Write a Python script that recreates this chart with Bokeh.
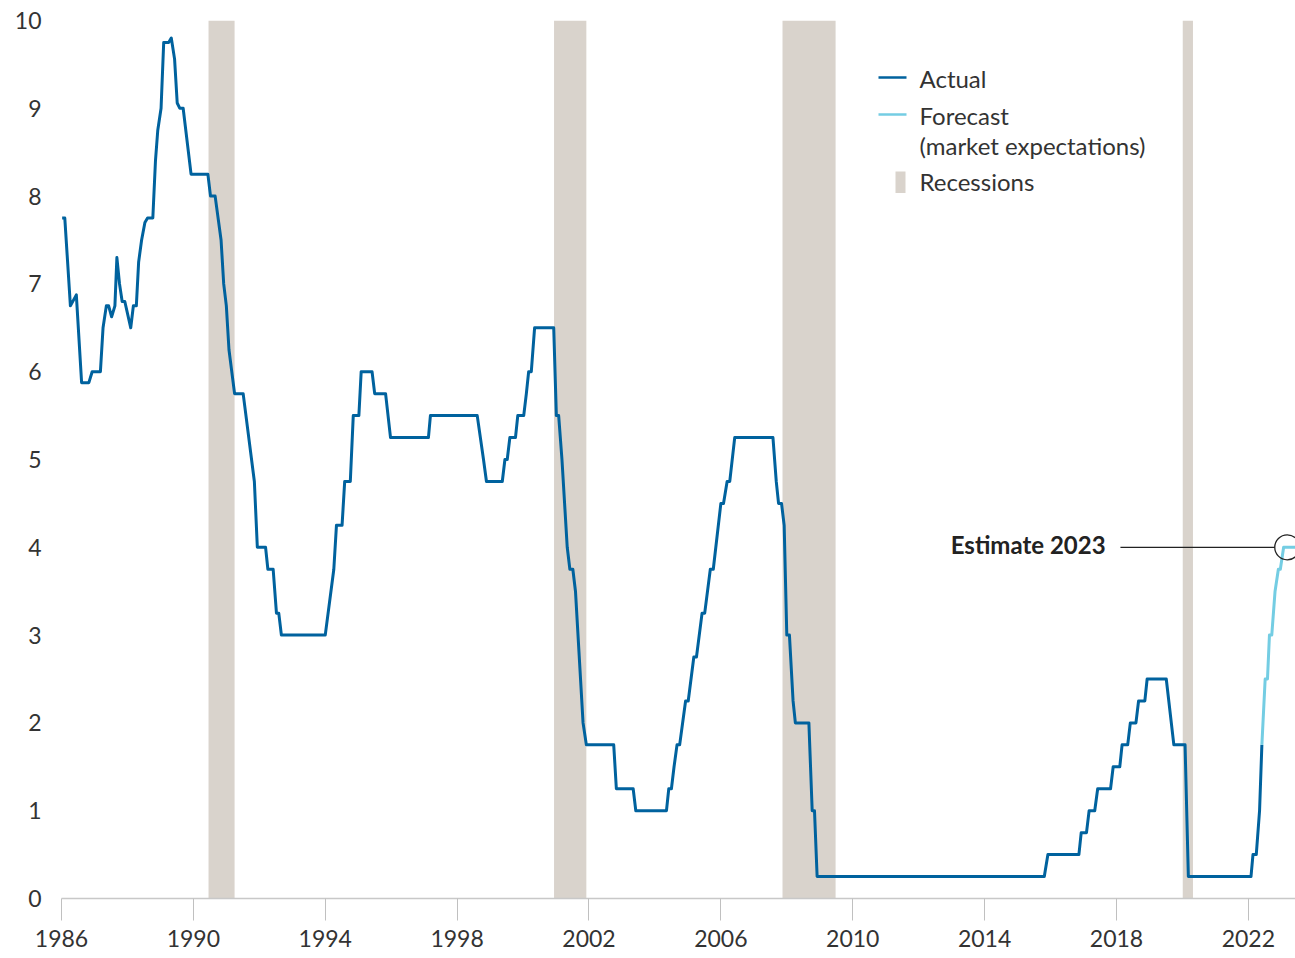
from bokeh.plotting import figure
from bokeh.models import Range1d, FixedTicker
from bokeh.core.properties import value
from bokeh.embed import file_html
from bokeh.resources import INLINE

# ---------------- data ----------------
actual_years = [
    1986.02, 1986.10, 1986.27, 1986.45, 1986.61, 1986.83, 1986.93, 1987.18, 1987.26, 1987.36,
    1987.43, 1987.52, 1987.62, 1987.68, 1987.76, 1987.84, 1987.92, 1988.10, 1988.18, 1988.27,
    1988.34, 1988.43, 1988.53, 1988.61, 1988.77, 1988.85, 1988.92, 1989.02, 1989.10, 1989.25,
    1989.33, 1989.43, 1989.51, 1989.59, 1989.69, 1989.93, 1990.44, 1990.52, 1990.66, 1990.84,
    1990.92, 1991.00, 1991.08, 1991.25, 1991.51, 1991.85, 1991.94, 1992.19, 1992.26, 1992.42,
    1992.52, 1992.59, 1992.67, 1994.00, 1994.26, 1994.34, 1994.51, 1994.59, 1994.76, 1994.85,
    1995.02, 1995.09, 1995.42, 1995.50, 1995.83, 1995.98, 1997.13, 1997.19, 1998.61, 1998.80,
    1998.89, 1999.37, 1999.45, 1999.52, 1999.60, 1999.77, 1999.84, 2000.02, 2000.10, 2000.17,
    2000.25, 2000.35, 2000.93, 2001.01, 2001.08, 2001.18, 2001.34, 2001.42, 2001.51, 2001.59,
    2001.82, 2001.92, 2002.75, 2002.83, 2003.34, 2003.42, 2004.35, 2004.42, 2004.50, 2004.58,
    2004.67, 2004.75, 2004.93, 2005.01, 2005.18, 2005.26, 2005.43, 2005.51, 2005.68, 2005.77,
    2006.00, 2006.08, 2006.19, 2006.27, 2006.42, 2007.58, 2007.68, 2007.75, 2007.84, 2007.92,
    2008.00, 2008.08, 2008.19, 2008.26, 2008.67, 2008.77, 2008.84, 2008.92, 2015.81, 2015.92,
    2016.86, 2016.93, 2017.09, 2017.17, 2017.34, 2017.43, 2017.82, 2017.90, 2018.10, 2018.17,
    2018.34, 2018.42, 2018.59, 2018.67, 2018.86, 2018.93, 2019.51, 2019.74, 2020.08, 2020.18,
    2022.08, 2022.14, 2022.24, 2022.34, 2022.41,
]
actual_rates = [
    7.75, 7.75, 6.75, 6.875, 5.875, 5.875, 6.0, 6.0, 6.5, 6.75,
    6.75, 6.625, 6.75, 7.3, 7.0, 6.8, 6.8, 6.5, 6.75, 6.75,
    7.25, 7.5, 7.7, 7.75, 7.75, 8.4, 8.75, 9.0, 9.75, 9.75,
    9.8, 9.56, 9.06, 9.0, 9.0, 8.25, 8.25, 8.0, 8.0, 7.5,
    7.0, 6.75, 6.25, 5.75, 5.75, 4.75, 4.0, 4.0, 3.75, 3.75,
    3.25, 3.25, 3.0, 3.0, 3.75, 4.25, 4.25, 4.75, 4.75, 5.5,
    5.5, 6.0, 6.0, 5.75, 5.75, 5.25, 5.25, 5.5, 5.5, 5.0,
    4.75, 4.75, 5.0, 5.0, 5.25, 5.25, 5.5, 5.5, 5.75, 6.0,
    6.0, 6.5, 6.5, 5.5, 5.5, 5.0, 4.0, 3.75, 3.75, 3.5,
    2.0, 1.75, 1.75, 1.25, 1.25, 1.0, 1.0, 1.25, 1.25, 1.5,
    1.75, 1.75, 2.25, 2.25, 2.75, 2.75, 3.25, 3.25, 3.75, 3.75,
    4.5, 4.5, 4.75, 4.75, 5.25, 5.25, 4.75, 4.5, 4.5, 4.25,
    3.0, 3.0, 2.25, 2.0, 2.0, 1.0, 1.0, 0.25, 0.25, 0.5,
    0.5, 0.75, 0.75, 1.0, 1.0, 1.25, 1.25, 1.5, 1.5, 1.75,
    1.75, 2.0, 2.0, 2.25, 2.25, 2.5, 2.5, 1.75, 1.75, 0.25,
    0.25, 0.5, 0.5, 1.0, 1.75,
]
forecast_years = [2022.41, 2022.51, 2022.58, 2022.64, 2022.71, 2022.81, 2022.91, 2022.97, 2023.07, 2023.43]
forecast_rates = [1.75, 2.5, 2.5, 3.0, 3.0, 3.5, 3.75, 3.75, 4.0, 4.0]

recession_start = [1990.46, 2000.94, 2007.87, 2020.01]
recession_end = [1991.25, 2001.92, 2009.48, 2020.32]

xtick_values = [1986, 1990, 1994, 1998, 2002, 2006, 2010, 2014, 2018, 2022]
xtick_labels = ["1986", "1990", "1994", "1998", "2002", "2006", "2010", "2014", "2018", "2022"]
ytick_values = [0, 1, 2, 3, 4, 5, 6, 7, 8, 9, 10]
ytick_labels = ["0", "1", "2", "3", "4", "5", "6", "7", "8", "9", "10"]

estimate_label = "Estimate 2023"
estimate_year = 2023.18
estimate_rate = forecast_rates[-1]
estimate_label_year = 2017.67   # right edge of the label
estimate_leader_year = 2018.12  # start of the leader line

legend_labels = ["Actual", "Forecast", "(market expectations)", "Recessions"]

# ---------------- styling ----------------
ACTUAL = "#00629e"
FORECAST = "#74cde3"
RECESS = "#d9d3cc"
TEXT = "#333333"
FONT = "Lato"

X_START, X_END = 1986, 2023.43
Y_MIN, Y_MAX = 0, 10
W, H = 1295, 958
BL, BR, BT, BB = 61, 0, 20, 60


def sx(px):  # picture pixel -> data x (legend decoration only)
    return X_START + (px - BL) * (X_END - X_START) / (W - BL - BR)


def sy(py):
    return Y_MAX - (py - BT) * (Y_MAX - Y_MIN) / (H - BT - BB)


p = figure(width=W, height=H, output_backend="svg", toolbar_location=None,
           x_range=Range1d(X_START, X_END), y_range=Range1d(Y_MIN, Y_MAX),
           min_border_left=BL, min_border_right=BR, min_border_top=BT, min_border_bottom=BB)
p.outline_line_color = None
p.xgrid.visible = False
p.ygrid.visible = False
p.background_fill_color = "white"
p.border_fill_color = "white"

# recessions
p.quad(left=recession_start, right=recession_end, bottom=Y_MIN, top=Y_MAX,
       fill_color=RECESS, line_color=None)

# lines
p.line(actual_years, actual_rates, line_color=ACTUAL, line_width=3, line_join="round")
p.line(forecast_years, forecast_rates, line_color=FORECAST, line_width=3, line_join="round")

# estimate annotation
px_per_year = (W - BL - BR) / (X_END - X_START)
circle_r = 12.5
p.scatter([estimate_year], [estimate_rate], marker="circle", size=2 * circle_r,
          fill_color=None, line_color="#222222", line_width=1.3)
p.segment(x0=[estimate_leader_year], y0=[estimate_rate],
          x1=[estimate_year - circle_r / px_per_year], y1=[estimate_rate],
          line_color="#222222", line_width=1.2)
p.text(x=[estimate_label_year], y=[estimate_rate + 0.03], text=[estimate_label], text_align="right",
       text_baseline="middle", text_font=value(FONT), text_font_style="bold",
       text_font_size="24px", text_color="#222222")

# legend (drawn manually)
p.segment(x0=[sx(878)], y0=[sy(77)], x1=[sx(906)], y1=[sy(77)], line_color=ACTUAL, line_width=2.5)
p.segment(x0=[sx(878)], y0=[sy(114)], x1=[sx(906)], y1=[sy(114)], line_color=FORECAST, line_width=2.5)
p.quad(left=[sx(895)], right=[sx(905)], bottom=[sy(192.5)], top=[sy(171)],
       fill_color=RECESS, line_color=None)
p.text(x=[sx(919)] * 4, y=[sy(78), sy(115), sy(145), sy(181)], text=legend_labels,
       text_align="left", text_baseline="middle", text_font=value(FONT),
       text_font_size="24px", text_color=TEXT)

# axes
xa = p.xaxis[0]
xa.ticker = FixedTicker(ticks=xtick_values)
xa.major_label_overrides = dict(zip(xtick_values, xtick_labels))
xa.axis_line_color = "#c8c8c8"
xa.axis_line_width = 1.5
xa.major_tick_line_color = "#c0c0c0"
xa.major_tick_line_width = 1
xa.major_tick_out = 22
xa.major_tick_in = 0
xa.minor_tick_line_color = None
xa.major_label_standoff = 9
xa.major_label_text_font = FONT
xa.major_label_text_font_size = "23px"
xa.major_label_text_color = TEXT

ya = p.yaxis[0]
ya.ticker = FixedTicker(ticks=ytick_values)
ya.major_label_overrides = dict(zip(ytick_values, ytick_labels))
ya.axis_line_color = None
ya.major_tick_line_color = None
ya.minor_tick_line_color = None
ya.major_tick_out = 0
ya.major_tick_in = 0
ya.major_label_standoff = 20
ya.major_label_text_font = FONT
ya.major_label_text_font_size = "23px"
ya.major_label_text_color = TEXT

open("out.html", "w").write(file_html(p, INLINE))
